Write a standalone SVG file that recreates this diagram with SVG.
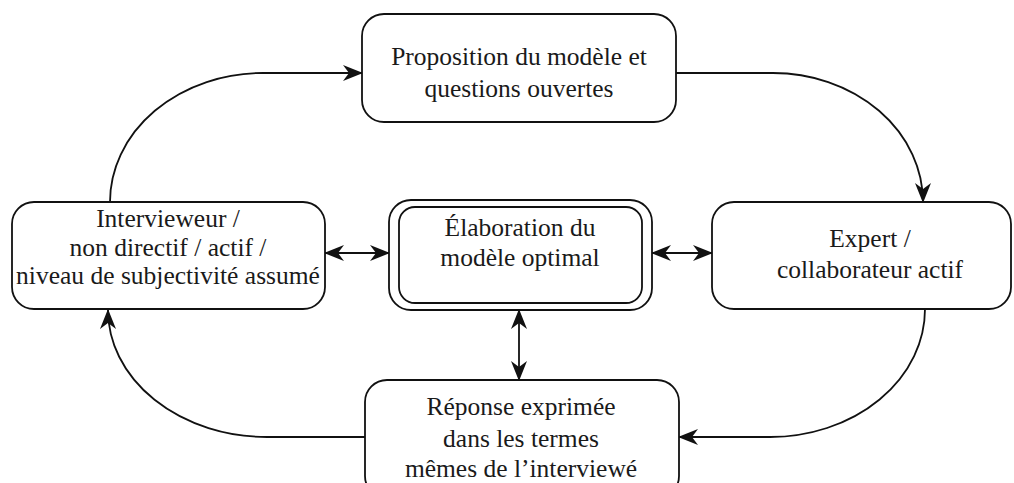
<svg xmlns="http://www.w3.org/2000/svg" width="1014" height="483" viewBox="0 0 1014 483">
<style>
.box{fill:#fff;stroke:#111;stroke-width:1.8}
.t{font-family:"Liberation Serif","Times New Roman",serif;font-size:25.5px;fill:#1a1a1a;text-anchor:middle}
.c{fill:none;stroke:#111;stroke-width:1.8}
</style>
<defs>
<marker id="ah" viewBox="0 0 20 16" refX="19" refY="8" markerWidth="20" markerHeight="16" markerUnits="userSpaceOnUse" orient="auto-start-reverse">
<path d="M0,0 L20,8 L0,16 L6,8 Z" fill="#111"/>
</marker>
</defs>
<rect width="1014" height="483" fill="#fff"/>
<g id="connectors">
<path class="c" d="M110,202 A153,129 0 0 1 263,73 L362,73" marker-end="url(#ah)"/>
<path class="c" d="M676,73 L773,73 A150,129 0 0 1 923,202" marker-end="url(#ah)"/>
<path class="c" d="M925,309 A155,128 0 0 1 770,437 L679,437" marker-end="url(#ah)"/>
<path class="c" d="M365,437 L267,437 A159,127 0 0 1 108,310" marker-end="url(#ah)"/>
<path class="c" d="M325,253 L389,253" marker-start="url(#ah)" marker-end="url(#ah)"/>
<path class="c" d="M652,253 L712,253" marker-start="url(#ah)" marker-end="url(#ah)"/>
<path class="c" d="M519,310 L519,380" marker-start="url(#ah)" marker-end="url(#ah)"/>
</g>
<g id="node-top">
<rect class="box" x="362" y="14" width="314" height="108" rx="22"/>
<text class="t" x="519" y="65">Proposition du modèle et</text>
<text class="t" x="519" y="97">questions ouvertes</text>
</g>
<g id="node-left">
<rect class="box" x="12" y="202" width="313" height="107" rx="22"/>
<text class="t" x="168" y="227">Intervieweur /</text>
<text class="t" x="168" y="256">non directif / actif /</text>
<text class="t" x="168" y="284">niveau de subjectivité assumé</text>
</g>
<g id="node-center">
<rect class="box" x="389" y="200" width="263" height="110" rx="22"/>
<rect class="box" x="399" y="207" width="243" height="96" rx="16"/>
<text class="t" x="520" y="236">Élaboration du</text>
<text class="t" x="520" y="266">modèle optimal</text>
</g>
<g id="node-right">
<rect class="box" x="712" y="202" width="299" height="107" rx="22"/>
<text class="t" x="870" y="247">Expert /</text>
<text class="t" x="870" y="278">collaborateur actif</text>
</g>
<g id="node-bottom">
<rect class="box" x="365" y="380" width="314" height="118" rx="22"/>
<text class="t" x="521" y="415">Réponse exprimée</text>
<text class="t" x="521" y="447">dans les termes</text>
<text class="t" x="521" y="477">mêmes de l’interviewé</text>
</g>
</svg>
